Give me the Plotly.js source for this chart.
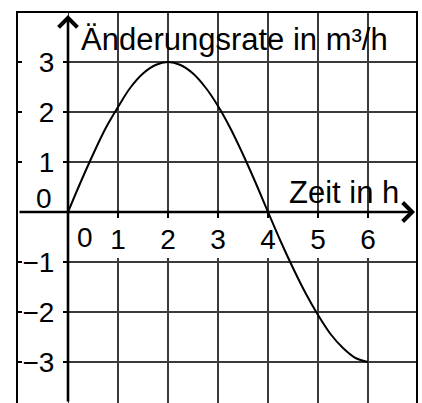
<!DOCTYPE html>
<html>
<head>
<meta charset="utf-8">
<script src="https://cdn.plot.ly/plotly-3.0.1.min.js"></script>
<style>
  html, body { margin: 0; padding: 0; background: #fff; }
  #chart { width: 422px; height: 403px; }
</style>
</head>
<body>
<div id="chart"></div>
<script>
// Data
const timeHours = [0, 0.25, 0.5, 0.75, 1, 1.25, 1.5, 1.75, 2, 2.25, 2.5, 2.75, 3, 3.25, 3.5, 3.75, 4, 4.25, 4.5, 4.75, 5, 5.25, 5.5, 5.75, 6];
const rateValues = [0, 0.59, 1.15, 1.67, 2.1, 2.49, 2.77, 2.94, 3, 2.94, 2.77, 2.49, 2.12, 1.67, 1.15, 0.59, 0, -0.58, -1.12, -1.62, -2.06, -2.44, -2.72, -2.92, -3];

const xTickVals = [1, 2, 3, 4, 5, 6];
const xTickText = ['1', '2', '3', '4', '5', '6'];
const yTickVals = [-3, -2, -1, 1, 2, 3];
const yTickText = ['\u22123', '\u22122', '\u22121', '1', '2', '3'];

const titleText = 'Änderungsrate in m³/h';
const xTitleText = 'Zeit in h';
const originLabel = '0';

const FONT = 'Liberation Sans, Arial, sans-serif';
const FS = 28;     // tick labels
const FT = 31;     // axis titles
const xRange = [-1, 6.96];
const yRange = [-3.82, 3.98];

const traces = [
  {
    x: timeHours, y: rateValues, type: 'scatter', mode: 'lines',
    line: { color: '#000', width: 2, shape: 'spline' },
    hoverinfo: 'skip', xaxis: 'x', yaxis: 'y'
  },
  {
    x: timeHours, y: rateValues, type: 'scatter', mode: 'lines',
    line: { color: 'rgba(0,0,0,0)', width: 0 },
    hoverinfo: 'skip', xaxis: 'x2', yaxis: 'y2'
  }
];

const gridColor = '#3a3a3a';

const layout = {
  width: 422, height: 403,
  margin: { l: 18, r: 6, t: 13, b: 0, pad: 0 },
  paper_bgcolor: '#fff', plot_bgcolor: '#fff',
  showlegend: false,
  font: { family: FONT, size: FS, color: '#000' },
  title: {
    text: titleText,
    font: { family: FONT, size: FT, color: '#000' },
    xref: 'container', yref: 'container',
    x: 81 / 422, xanchor: 'left',
    y: 1 - 39 / 403, yanchor: 'middle'
  },
  xaxis: {
    range: xRange, tick0: 0, dtick: 1,
    showgrid: true, gridcolor: gridColor, gridwidth: 1.6,
    zeroline: false, showticklabels: false, ticks: '',
    showline: true, side: 'top', linecolor: '#000', linewidth: 2,
    fixedrange: true
  },
  yaxis: {
    range: yRange, tickvals: yTickVals,
    showgrid: true, gridcolor: gridColor, gridwidth: 1.6,
    zeroline: false, showticklabels: false,
    ticks: 'inside', ticklen: 4, tickwidth: 1.5, tickcolor: '#000',
    showline: true, mirror: true, linecolor: '#000', linewidth: 2,
    fixedrange: true
  },
  xaxis2: {
    overlaying: 'x', anchor: 'free',
    position: (0 - yRange[0]) / (yRange[1] - yRange[0]),
    range: xRange, tickvals: xTickVals, ticktext: xTickText,
    ticks: 'outside', ticklen: 5, tickwidth: 2, tickcolor: '#000',
    showgrid: false, zeroline: false, showline: false,
    tickfont: { family: FONT, size: FS, color: '#000' },
    ticklabelstandoff: -3,
    fixedrange: true
  },
  yaxis2: {
    overlaying: 'y', anchor: 'free', side: 'left',
    position: (0 - xRange[0]) / (xRange[1] - xRange[0]),
    range: yRange, tickvals: yTickVals, ticktext: yTickText,
    ticks: 'outside', ticklen: 5, tickwidth: 2, tickcolor: '#000',
    showgrid: false, zeroline: false, showline: false,
    tickfont: { family: FONT, size: FS, color: '#000' },
    ticklabelstandoff: 3,
    fixedrange: true
  },
  shapes: [
    // white bands that keep the grid out of the tick-label areas (between grid and traces)
    { type: 'rect', layer: 'between', xref: 'x', yref: 'y',
      x0: xRange[0], x1: 0, y0: yRange[0], y1: yRange[1],
      fillcolor: '#fff', line: { width: 0 } },
    { type: 'rect', layer: 'between', xref: 'x', yref: 'y',
      x0: xRange[0], x1: xRange[1], y0: -0.92, y1: -0.1,
      fillcolor: '#fff', line: { width: 0 } }
  ],
  annotations: [
    // x axis with arrow
    { x: 6.94, y: 0, ax: -1, ay: 0, xref: 'x', yref: 'y', axref: 'x', ayref: 'y',
      text: '', showarrow: true, arrowhead: 4, arrowsize: 1.4, arrowwidth: 2.6, arrowcolor: '#000' },
    // y axis with arrow
    { x: 0, y: 3.94, ax: 0, ay: yRange[0], xref: 'x', yref: 'y', axref: 'x', ayref: 'y',
      text: '', showarrow: true, arrowhead: 4, arrowsize: 1.4, arrowwidth: 2.6, arrowcolor: '#000' },
    // axis label
    { x: 4.38, y: 0.4, xref: 'x', yref: 'y', xanchor: 'left', yanchor: 'middle',
      text: xTitleText, showarrow: false, font: { family: FONT, size: FT, color: '#000' } },
    // origin labels
    { x: 0, y: 0, xref: 'x', yref: 'y', xanchor: 'center', yanchor: 'middle',
      xshift: 17, yshift: -25, text: originLabel, showarrow: false,
      font: { family: FONT, size: FS, color: '#000' } },
    { x: 0, y: 0, xref: 'x', yref: 'y', xanchor: 'center', yanchor: 'middle',
      xshift: -24, yshift: 14, text: originLabel, showarrow: false,
      font: { family: FONT, size: FS, color: '#000' } }
  ]
};

Plotly.newPlot('chart', traces, layout, { staticPlot: true, displayModeBar: false });
</script>
</body>
</html>
